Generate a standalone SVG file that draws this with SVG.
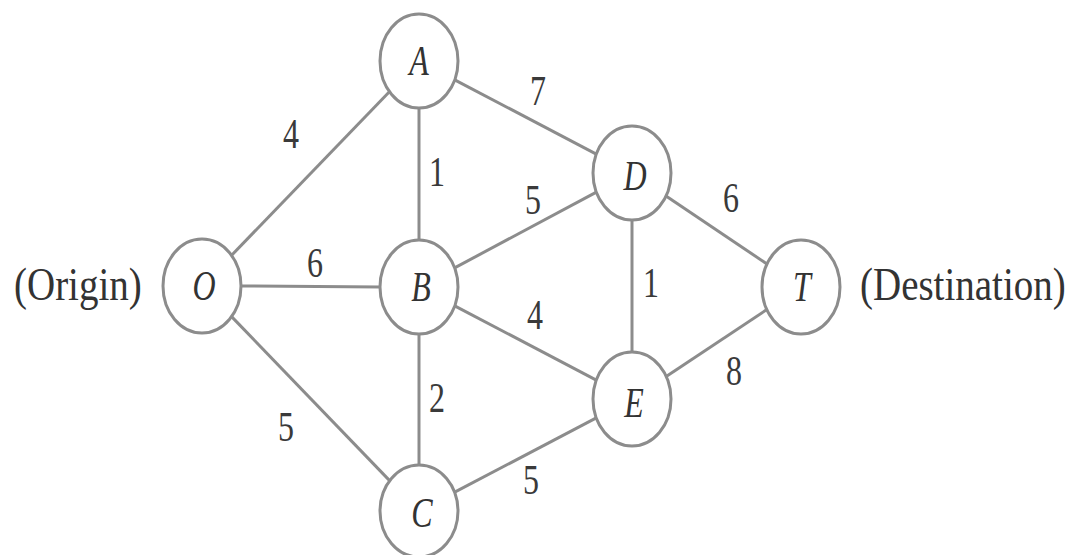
<svg xmlns="http://www.w3.org/2000/svg" width="1075" height="555" viewBox="0 0 1075 555">
<style>
.edge{stroke:#8c8c8c;stroke-width:3;fill:none}
.node{fill:#ffffff;stroke:#8c8c8c;stroke-width:3}
.lbl{font-family:'Liberation Serif','Times New Roman','DejaVu Serif',serif;font-style:italic;font-size:32px;fill:#333333;text-anchor:middle}
.w{font-family:'Liberation Serif','Times New Roman','DejaVu Serif',serif;font-size:32px;fill:#3a3a3a;text-anchor:middle}
.side{font-family:'Liberation Serif','Times New Roman','DejaVu Serif',serif;font-size:39px;fill:#333333}
</style>
<rect width="1075" height="555" fill="#ffffff"/>
<g id="connectors">
<line class="edge" x1="231.6" y1="255.3" x2="389.4" y2="91.7"/>
<line class="edge" x1="241" y1="286" x2="380" y2="287"/>
<line class="edge" x1="231.6" y1="316.6" x2="389.4" y2="480.4"/>
<line class="edge" x1="419" y1="108" x2="419" y2="240"/>
<line class="edge" x1="454.7" y1="79.8" x2="596.3" y2="154.2"/>
<line class="edge" x1="454.6" y1="267.9" x2="596.4" y2="192.1"/>
<line class="edge" x1="454.7" y1="305.8" x2="596.3" y2="380.2"/>
<line class="edge" x1="419" y1="334" x2="419" y2="465"/>
<line class="edge" x1="632" y1="220" x2="632" y2="352"/>
<line class="edge" x1="666" y1="196" x2="767" y2="264"/>
<line class="edge" x1="666.2" y1="376.4" x2="766.8" y2="309.6"/>
<line class="edge" x1="454.7" y1="492.2" x2="596.3" y2="417.8"/>
</g>
<g id="edge-labels">
<text class="w" transform="translate(538,105) scale(1,1.3)">7</text>
<text class="w" transform="translate(291,148) scale(1,1.3)">4</text>
<text class="w" transform="translate(437,186) scale(1,1.3)">1</text>
<text class="w" transform="translate(533,214) scale(1,1.3)">5</text>
<text class="w" transform="translate(731,212) scale(1,1.3)">6</text>
<text class="w" transform="translate(315,277) scale(1,1.3)">6</text>
<text class="w" transform="translate(651,297) scale(1,1.3)">1</text>
<text class="w" transform="translate(535,329) scale(1,1.3)">4</text>
<text class="w" transform="translate(734,385) scale(1,1.3)">8</text>
<text class="w" transform="translate(437,412) scale(1,1.3)">2</text>
<text class="w" transform="translate(286,441) scale(1,1.3)">5</text>
<text class="w" transform="translate(531,494) scale(1,1.3)">5</text>
</g>
<g id="node-O"><ellipse class="node" cx="202" cy="286" rx="39" ry="47"/><text class="lbl" transform="translate(204,300) scale(1,1.3)">O</text></g>
<g id="node-A"><ellipse class="node" cx="419" cy="61" rx="39" ry="47"/><text class="lbl" transform="translate(419,75) scale(1,1.3)">A</text></g>
<g id="node-B"><ellipse class="node" cx="419" cy="287" rx="39" ry="47"/><text class="lbl" transform="translate(421,301) scale(1,1.3)">B</text></g>
<g id="node-C"><ellipse class="node" cx="419" cy="511" rx="39" ry="46"/><text class="lbl" transform="translate(422,527) scale(1,1.3)">C</text></g>
<g id="node-D"><ellipse class="node" cx="632" cy="173" rx="39" ry="47"/><text class="lbl" transform="translate(635,190) scale(1,1.3)">D</text></g>
<g id="node-E"><ellipse class="node" cx="632" cy="399" rx="39" ry="47"/><text class="lbl" transform="translate(634,417) scale(1,1.3)">E</text></g>
<g id="node-T"><ellipse class="node" cx="801" cy="287" rx="39" ry="47"/><text class="lbl" transform="translate(802,301) scale(1,1.3)">T</text></g>
<g id="side-labels">
<text class="side" transform="translate(14,300) scale(1,1.2)">(Origin)</text>
<text class="side" transform="translate(860,300) scale(1,1.2)">(Destination)</text>
</g>
</svg>
